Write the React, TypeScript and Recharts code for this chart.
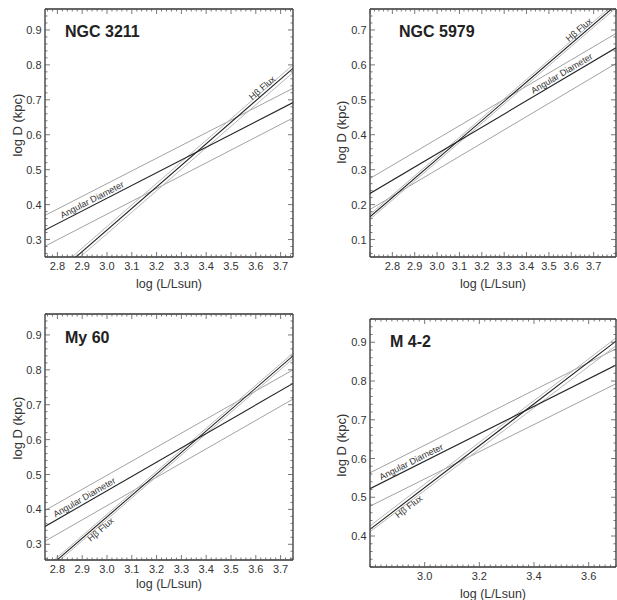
import React from 'react';
import { LineChart, Line, XAxis, YAxis, ReferenceDot, Label } from 'recharts';

// ---------- Panel 1: NGC 3211 ----------
const p1Title = 'NGC 3211';
const p1XDomain = [2.75, 3.75];
const p1YDomain = [0.25, 0.96];
const p1XLabels = [2.8, 2.9, 3.0, 3.1, 3.2, 3.3, 3.4, 3.5, 3.6, 3.7];
const p1YLabels = [0.3, 0.4, 0.5, 0.6, 0.7, 0.8, 0.9];
const p1AngCenter = [0.327, 0.692];
const p1AngUpper = [0.369, 0.733];
const p1AngLower = [0.281, 0.648];
const p1FluxCenter = [0.173, 0.79];
const p1FluxUpper = [0.183, 0.8];
const p1FluxLower = [0.163, 0.778];
const p1AngLabelX = 2.95;
const p1FluxLabelX = 3.64;

// ---------- Panel 2: NGC 5979 ----------
const p2Title = 'NGC 5979';
const p2XDomain = [2.7, 3.8];
const p2YDomain = [0.05, 0.76];
const p2XLabels = [2.8, 2.9, 3.0, 3.1, 3.2, 3.3, 3.4, 3.5, 3.6, 3.7];
const p2YLabels = [0.1, 0.2, 0.3, 0.4, 0.5, 0.6, 0.7];
const p2AngCenter = [0.232, 0.649];
const p2AngUpper = [0.275, 0.69];
const p2AngLower = [0.186, 0.604];
const p2FluxCenter = [0.165, 0.771];
const p2FluxUpper = [0.172, 0.779];
const p2FluxLower = [0.158, 0.763];
const p2AngLabelX = 3.57;
const p2FluxLabelX = 3.65;

// ---------- Panel 3: My 60 ----------
const p3Title = 'My 60';
const p3XDomain = [2.75, 3.75];
const p3YDomain = [0.255, 0.96];
const p3XLabels = [2.8, 2.9, 3.0, 3.1, 3.2, 3.3, 3.4, 3.5, 3.6, 3.7];
const p3YLabels = [0.3, 0.4, 0.5, 0.6, 0.7, 0.8, 0.9];
const p3AngCenter = [0.351, 0.761];
const p3AngUpper = [0.397, 0.8];
const p3AngLower = [0.309, 0.716];
const p3FluxCenter = [0.225, 0.84];
const p3FluxUpper = [0.232, 0.848];
const p3FluxLower = [0.218, 0.832];
const p3AngLabelX = 2.92;
const p3FluxLabelX = 2.96;

// ---------- Panel 4: M 4-2 ----------
const p4Title = 'M 4-2';
const p4XDomain = [2.8, 3.7];
const p4YDomain = [0.32, 0.96];
const p4XLabels = [3.0, 3.2, 3.4, 3.6];
const p4YLabels = [0.4, 0.5, 0.6, 0.7, 0.8, 0.9];
const p4AngCenter = [0.522, 0.841];
const p4AngUpper = [0.563, 0.883];
const p4AngLower = [0.477, 0.793];
const p4FluxCenter = [0.417, 0.903];
const p4FluxUpper = [0.426, 0.911];
const p4FluxLower = [0.411, 0.891];
const p4AngLabelX = 2.96;
const p4FluxLabelX = 2.93;

const AXIS_TITLE_X = 'log (L/Lsun)';
const AXIS_TITLE_Y = 'log D (kpc)';
const ANG_LABEL = 'Angular Diameter';
const FLUX_LABEL = 'H\u03B2 Flux';

const FONT = '"Liberation Sans", Arial, Helvetica, sans-serif';
const FRAME = '#333';

function minorTicks(domain: number[], step: number) {
  const out: number[] = [];
  const start = Math.ceil(domain[0] / step - 1e-9);
  const end = Math.floor(domain[1] / step + 1e-9);
  for (let i = start; i <= end; i++) out.push(Math.round(i * step * 1000) / 1000);
  return out;
}
const near = (a: number, b: number) => Math.abs(a - b) < 1e-6;
const isTenth = (v: number) => Math.abs(v * 10 - Math.round(v * 10)) < 1e-6;

type Cfg = {
  title: string; xd: number[]; yd: number[]; xl: number[]; yl: number[];
  ac: number[]; au: number[]; al: number[]; fc: number[]; fu: number[]; fl: number[];
  angX: number; fluxX: number; fluxBelow: boolean; xMajorTenth: boolean;
  left: number; top: number; w: number; h: number;
  box: { L: number; T: number; R: number; B: number };
  titlePos: [number, number]; yTitle: [number, number]; xTitleY: number;
};

const panels: Cfg[] = [
  { title: p1Title, xd: p1XDomain, yd: p1YDomain, xl: p1XLabels, yl: p1YLabels,
    ac: p1AngCenter, au: p1AngUpper, al: p1AngLower, fc: p1FluxCenter, fu: p1FluxUpper, fl: p1FluxLower,
    angX: p1AngLabelX, fluxX: p1FluxLabelX, fluxBelow: false, xMajorTenth: true,
    left: 0, top: 0, w: 300, h: 300, box: { L: 45, T: 9, R: 293, B: 257 },
    titlePos: [65, 37], yTitle: [17, 125], xTitleY: 283 },
  { title: p2Title, xd: p2XDomain, yd: p2YDomain, xl: p2XLabels, yl: p2YLabels,
    ac: p2AngCenter, au: p2AngUpper, al: p2AngLower, fc: p2FluxCenter, fu: p2FluxUpper, fl: p2FluxLower,
    angX: p2AngLabelX, fluxX: p2FluxLabelX, fluxBelow: false, xMajorTenth: true,
    left: 310, top: 0, w: 307, h: 300, box: { L: 60, T: 9, R: 306, B: 257 },
    titlePos: [89, 37], yTitle: [31, 132], xTitleY: 283 },
  { title: p3Title, xd: p3XDomain, yd: p3YDomain, xl: p3XLabels, yl: p3YLabels,
    ac: p3AngCenter, au: p3AngUpper, al: p3AngLower, fc: p3FluxCenter, fu: p3FluxUpper, fl: p3FluxLower,
    angX: p3AngLabelX, fluxX: p3FluxLabelX, fluxBelow: true, xMajorTenth: true,
    left: 0, top: 300, w: 300, h: 300, box: { L: 45, T: 14, R: 293, B: 260 },
    titlePos: [65, 43], yTitle: [17, 128], xTitleY: 283 },
  { title: p4Title, xd: p4XDomain, yd: p4YDomain, xl: p4XLabels, yl: p4YLabels,
    ac: p4AngCenter, au: p4AngUpper, al: p4AngLower, fc: p4FluxCenter, fu: p4FluxUpper, fl: p4FluxLower,
    angX: p4AngLabelX, fluxX: p4FluxLabelX, fluxBelow: true, xMajorTenth: false,
    left: 310, top: 300, w: 307, h: 300, box: { L: 60, T: 19, R: 306, B: 267 },
    titlePos: [80, 47], yTitle: [31, 145], xTitleY: 293 },
];

function Panel({ c }: { c: Cfg }) {
  const { box } = c;
  const PW = box.R - box.L;
  const PH = box.B - box.T;
  const data = [0, 1].map((i) => ({
    x: c.xd[i], ac: c.ac[i], au: c.au[i], al: c.al[i], fc: c.fc[i], fu: c.fu[i], fl: c.fl[i],
  }));
  const xMinor = minorTicks(c.xd, 0.02);
  const yMinor = minorTicks(c.yd, 0.02);
  const xMajor = (v: number) => (c.xMajorTenth ? isTenth(v) : c.xl.some((t) => near(t, v)));
  const yMajor = (v: number) => isTenth(v);

  const lineAt = (arr: number[], x: number) => arr[0] + ((arr[1] - arr[0]) * (x - c.xd[0])) / (c.xd[1] - c.xd[0]);
  const angleOf = (arr: number[]) => {
    const dyPx = ((arr[1] - arr[0]) / (c.yd[1] - c.yd[0])) * PH;
    return (-Math.atan2(dyPx, PW) * 180) / Math.PI;
  };
  const angA = angleOf(c.ac);
  const angF = angleOf(c.fc);

  const bottomTick = (p: any) => {
    const v = p.payload.value;
    const lbl = c.xl.some((t) => near(t, v));
    return (
      <g>
        <line x1={p.x} x2={p.x} y1={box.B} y2={box.B - (xMajor(v) ? 5 : 2.5)} stroke="#555" strokeWidth={0.8} />
        {lbl && (
          <text x={p.x} y={box.B + 12.5} textAnchor="middle" fontSize={11} fill="#333" fontFamily={FONT}>
            {v.toFixed(1)}
          </text>
        )}
      </g>
    );
  };
  const topTick = (p: any) => {
    const v = p.payload.value;
    return <line x1={p.x} x2={p.x} y1={box.T} y2={box.T + (xMajor(v) ? 5 : 2.5)} stroke="#555" strokeWidth={0.8} />;
  };
  const leftTick = (p: any) => {
    const v = p.payload.value;
    const lbl = c.yl.some((t) => near(t, v));
    return (
      <g>
        <line x1={box.L} x2={box.L + (yMajor(v) ? 5 : 2.5)} y1={p.y} y2={p.y} stroke="#555" strokeWidth={0.8} />
        {lbl && (
          <text x={box.L - 3.5} y={p.y + 4} textAnchor="end" fontSize={11} fill="#333" fontFamily={FONT}>
            {v.toFixed(1)}
          </text>
        )}
      </g>
    );
  };
  const rightTick = (p: any) => {
    const v = p.payload.value;
    return <line x1={box.R} x2={box.R - (yMajor(v) ? 5 : 2.5)} y1={p.y} y2={p.y} stroke="#555" strokeWidth={0.8} />;
  };

  const rotatedText = (text: string, angle: number, below: boolean) => (props: any) => {
    const vb = props.viewBox || {};
    const cx = (vb.x ?? 0) + (vb.width ?? 0) / 2;
    const cy = (vb.y ?? 0) + (vb.height ?? 0) / 2;
    return (
      <text
        x={cx}
        y={cy}
        dy={below ? 8.5 : -2.5}
        transform={`rotate(${angle} ${cx} ${cy})`}
        textAnchor="middle"
        fontSize={9}
        fill="#333"
        fontFamily={FONT}
      >
        {text}
      </text>
    );
  };

  const frame = { stroke: FRAME, strokeWidth: 1.3 };

  return (
    <div style={{ position: 'absolute', left: c.left, top: c.top, width: c.w, height: c.h }}>
      <LineChart
        width={c.w}
        height={c.h}
        data={data}
        margin={{ top: box.T, right: c.w - box.R, left: 0, bottom: 0 }}
      >
        <XAxis
          xAxisId="b"
          dataKey="x"
          type="number"
          domain={c.xd}
          allowDataOverflow
          ticks={xMinor}
          interval={0}
          height={c.h - box.B}
          tickLine={false}
          axisLine={frame}
          tick={bottomTick}
        >
          <Label
            content={() => (
              <text x={(box.L + box.R) / 2} y={c.xTitleY + 4.5} textAnchor="middle" fontSize={12.5} fill="#333" fontFamily={FONT}>
                {AXIS_TITLE_X}
              </text>
            )}
          />
        </XAxis>
        <XAxis
          xAxisId="t"
          orientation="top"
          dataKey="x"
          type="number"
          domain={c.xd}
          allowDataOverflow
          ticks={xMinor}
          interval={0}
          mirror
          tickLine={false}
          axisLine={frame}
          tick={topTick}
        />
        <YAxis
          yAxisId="l"
          type="number"
          domain={c.yd}
          allowDataOverflow
          ticks={yMinor}
          interval={0}
          width={box.L}
          tickLine={false}
          axisLine={frame}
          tick={leftTick}
        >
          <Label
            content={() => (
              <text
                x={c.yTitle[0]}
                y={c.yTitle[1]}
                transform={`rotate(-90 ${c.yTitle[0]} ${c.yTitle[1]})`}
                dy={4.5}
                textAnchor="middle"
                fontSize={13}
                fill="#333"
                fontFamily={FONT}
              >
                {AXIS_TITLE_Y}
              </text>
            )}
          />
        </YAxis>
        <YAxis
          yAxisId="r"
          orientation="right"
          type="number"
          domain={c.yd}
          allowDataOverflow
          ticks={yMinor}
          interval={0}
          mirror
          tickLine={false}
          axisLine={frame}
          tick={rightTick}
        />
        <Line xAxisId="b" yAxisId="l" dataKey="au" stroke="#8a8a8a" strokeWidth={0.8} dot={false} isAnimationActive={false} />
        <Line xAxisId="b" yAxisId="l" dataKey="al" stroke="#8a8a8a" strokeWidth={0.8} dot={false} isAnimationActive={false} />
        <Line xAxisId="b" yAxisId="l" dataKey="fu" stroke="#b8b8b8" strokeWidth={1} dot={false} isAnimationActive={false} />
        <Line xAxisId="b" yAxisId="l" dataKey="fl" stroke="#b8b8b8" strokeWidth={1} dot={false} isAnimationActive={false} />
        <Line xAxisId="b" yAxisId="l" dataKey="ac" stroke="#222" strokeWidth={1.1} dot={false} isAnimationActive={false} />
        <Line xAxisId="b" yAxisId="l" dataKey="fc" stroke="#222" strokeWidth={1.1} dot={false} isAnimationActive={false} />
        <ReferenceDot xAxisId="b" yAxisId="l" x={c.angX} y={lineAt(c.ac, c.angX)} r={0} fill="none" stroke="none">
          <Label content={rotatedText(ANG_LABEL, angA, false)} />
        </ReferenceDot>
        <ReferenceDot xAxisId="b" yAxisId="l" x={c.fluxX} y={lineAt(c.fc, c.fluxX)} r={0} fill="none" stroke="none">
          <Label content={rotatedText(FLUX_LABEL, angF, c.fluxBelow)} />
        </ReferenceDot>
      </LineChart>
      <svg width={c.w} height={c.h} style={{ position: 'absolute', left: 0, top: 0, pointerEvents: 'none' }}>
        <text x={c.titlePos[0]} y={c.titlePos[1]} fontSize={16} fontWeight="bold" fill="#222" fontFamily={FONT}>
          {c.title}
        </text>
      </svg>
    </div>
  );
}

export default function App() {
  return (
    <div style={{ position: 'absolute', left: 0, top: 0, width: 617, height: 600, background: '#fff', overflow: 'hidden' }}>
      {panels.map((c, i) => (
        <Panel key={i} c={c} />
      ))}
    </div>
  );
}
